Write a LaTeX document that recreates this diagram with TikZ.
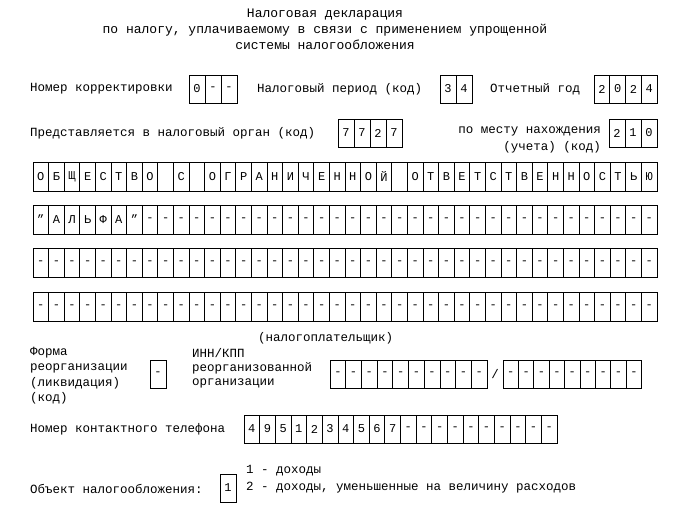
\documentclass[tikz,border=0pt]{standalone}
\usepackage{fontspec}
\setmainfont{Liberation Mono}
\newcommand{\cellrow}[5]{% x, y, width, height, list
  \foreach \ch [count=\i from 0] in {#5} {
    \draw[line width=0.8pt] ({#1+\i*#3},#2) rectangle ++(#3,#4);
    \node[font=\fontsize{12}{12}\selectfont,inner sep=0pt] at ({#1+\i*#3+#3/2},{#2+#4/2}) {\ch};
  }}
\newcommand{\qq}{\symbol{34}}
\begin{document}
\begin{tikzpicture}[x=1pt,y=-1pt,
  lbl/.style={font=\fontsize{12.5}{14}\selectfont,inner sep=0pt,anchor=west},
  hdr/.style={font=\fontsize{13}{15}\selectfont,inner sep=0pt}]
\useasboundingbox (0,0) rectangle (700,511);
\node[hdr] at (325,15) {Налоговая декларация};
\node[hdr] at (325,30) {по налогу, уплачиваемому в связи с применением упрощенной};
\node[hdr] at (325,45) {системы налогообложения};

\node[lbl] at (30,89) {Номер корректировки};
\cellrow{189}{75}{16}{28}{0,-,-}
\node[lbl] at (257,89) {Налоговый период (код)};
\cellrow{440}{75}{16}{28}{3,4}
\node[lbl] at (490,89) {Отчетный год};
\cellrow{594}{75}{15.75}{28}{2,0,2,4}

\node[lbl] at (30,133) {Представляется в налоговый орган (код)};
\cellrow{338}{119}{16}{28}{7,7,2,7}
\node[lbl,anchor=east] at (601,131) {по месту нахождения};
\node[lbl,anchor=east] at (601,147) {(учета) (код)};
\cellrow{609}{119}{16}{28}{2,1,0}

\cellrow{33}{162}{15.6}{29}{О,Б,Щ,Е,С,Т,В,О,{},С,{},О,Г,Р,А,Н,И,Ч,Е,Н,Н,О,Й,{},О,Т,В,Е,Т,С,Т,В,Е,Н,Н,О,С,Т,Ь,Ю}
\cellrow{33}{205}{15.6}{29}{\qq,А,Л,Ь,Ф,А,\qq,-,-,-,-,-,-,-,-,-,-,-,-,-,-,-,-,-,-,-,-,-,-,-,-,-,-,-,-,-,-,-,-,-}
\cellrow{33}{248}{15.6}{29}{-,-,-,-,-,-,-,-,-,-,-,-,-,-,-,-,-,-,-,-,-,-,-,-,-,-,-,-,-,-,-,-,-,-,-,-,-,-,-,-}
\cellrow{33}{292}{15.6}{29}{-,-,-,-,-,-,-,-,-,-,-,-,-,-,-,-,-,-,-,-,-,-,-,-,-,-,-,-,-,-,-,-,-,-,-,-,-,-,-,-}

\node[lbl] at (258,338) {(налогоплательщик)};
\node[lbl] at (30,353) {Форма};
\node[lbl] at (30,368) {реорганизации};
\node[lbl] at (30,383) {(ликвидация)};
\node[lbl] at (30,398) {(код)};
\cellrow{150}{360}{16}{28}{-}
\node[lbl] at (192,353) {ИНН/КПП};
\node[lbl] at (192,368) {реорганизованной};
\node[lbl] at (192,383) {организации};
\cellrow{330}{360}{15.7}{28}{-,-,-,-,-,-,-,-,-,-}
\node[lbl,anchor=center] at (495,374) {/};
\cellrow{503}{360}{15.4}{28}{-,-,-,-,-,-,-,-,-}

\node[lbl] at (30,429) {Номер контактного телефона};
\cellrow{244}{415}{15.65}{28}{4,9,5,1,2,3,4,5,6,7,-,-,-,-,-,-,-,-,-,-}

\node[lbl] at (30,489) {Объект налогообложения:};
\cellrow{220}{474}{16}{28}{1}
\node[lbl] at (246,471) {1 - доходы};
\node[lbl] at (246,488) {2 - доходы, уменьшенные на величину расходов};
\end{tikzpicture}
\end{document}
